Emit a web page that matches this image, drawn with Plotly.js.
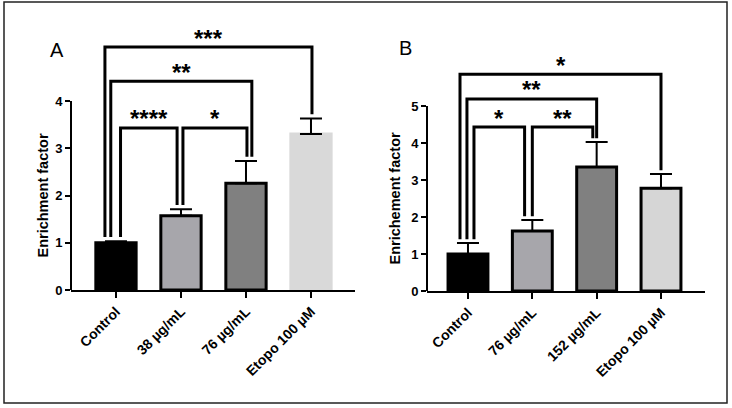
<!DOCTYPE html>
<html>
<head>
<meta charset="utf-8">
<script src="https://cdn.plot.ly/plotly-3.0.1.min.js"></script>
<style>html,body{margin:0;padding:0;background:#fff;}#chart{width:732px;height:408px;}</style>
</head>
<body>
<div id="chart"></div>
<script>
// ---- Data ----
const catsA = ['Control', '38 µg/mL', '76 µg/mL', 'Etopo 100 µM'];
const meanA = [1.00, 1.57, 2.26, 3.30];
const errA  = [0.03, 0.14, 0.47, 0.33];

const catsB = ['Control', '76 µg/mL', '152 µg/mL', 'Etopo 100 µM'];
const meanB = [1.00, 1.62, 3.35, 2.78];
const errB  = [0.30, 0.30, 0.68, 0.38];

// significance comparisons (pairs of category indices), bracket heights, labels
const pairsA   = [[0, 1], [1, 2], [0, 2], [0, 3]];
const heightsA = [3.43, 3.43, 4.42, 5.14];
const starsA   = ['****', '*', '**', '***'];

const pairsB   = [[0, 1], [1, 2], [0, 2], [0, 3]];
const heightsB = [4.43, 4.43, 5.19, 5.86];
const starsB   = ['*', '**', '**', '*'];

const yTicksA = [0, 1, 2, 3, 4];
const yTicksB = [0, 1, 2, 3, 4, 5];
const titleA = 'Enrichment factor';
const titleB = 'Enrichement factor';

// ---- Styling ----
const FONT = 'Liberation Sans, Arial, Helvetica, sans-serif';
const colorsA = ['#000000', '#a7a6ab', '#808080', '#d9d9d9'];
const lineColA = ['#000000', '#000000', '#000000', '#d9d9d9'];
const colorsB = ['#000000', '#a7a6ab', '#808080', '#d6d6d6'];
const lineColB = ['#000000', '#000000', '#000000', '#000000'];
// horizontal offsets of bracket legs from bar centres (left leg, right leg)
const legOffA = [[0.07, -0.06], [0.03, 0.015], [-0.08, 0.09], [-0.17, 0.015]];
const legOffB = [[0.093, -0.12], [0.0, -0.06], [-0.016, 0.0], [-0.124, 0.0]];

const W = 732, H = 408;

function barTrace(cats, mean, err, colors, lineCols, xa, ya) {
  return {
    type: 'bar', x: cats, y: mean, xaxis: xa, yaxis: ya, width: 0.62,
    marker: { color: colors, line: { color: lineCols, width: 3 } },
    error_y: { type: 'data', symmetric: false, array: err, arrayminus: err.map(() => 0),
               color: '#000', thickness: 2, width: 11 },
    hoverinfo: 'skip'
  };
}

function brackets(pairs, heights, stars, legOff, mean, err, gap, xa, ya) {
  const shapes = [], anns = [];
  pairs.forEach((p, k) => {
    const xl = p[0] + legOff[k][0], xr = p[1] + legOff[k][1];
    const h = heights[k];
    const bl = mean[p[0]] + err[p[0]] + gap, br = mean[p[1]] + err[p[1]] + gap;
    shapes.push({
      type: 'path', xref: xa, yref: ya,
      path: `M${xl},${bl} L${xl},${h} L${xr},${h} L${xr},${br}`,
      line: { color: '#000', width: 3 }, layer: 'above'
    });
    anns.push({
      xref: xa, yref: ya, x: (xl + xr) / 2, y: h, text: stars[k], showarrow: false,
      xanchor: 'center', yanchor: 'middle', yshift: 9,
      font: { family: FONT, size: 24, color: '#000', weight: 'bold' }
    });
  });
  return { shapes, anns };
}

const bA = brackets(pairsA, heightsA, starsA, legOffA, meanA, errA, 0.09, 'x', 'y');
const bB = brackets(pairsB, heightsB, starsB, legOffB, meanB, errB, 0.10, 'x2', 'y2');

const tickFontX = { family: FONT, size: 14, color: '#000', weight: 'bold' };
const tickFontY = { family: FONT, size: 13, color: '#000', weight: 'bold' };
const titleFont = { family: FONT, size: 14.5, color: '#000', weight: 'bold' };

function xAxis(domain, range, anchor) {
  return { domain, range, anchor, type: 'category', showline: true, linewidth: 2, linecolor: '#000',
           ticks: 'outside', ticklen: 6, tickwidth: 2, tickcolor: '#000', tickangle: -45,
           tickfont: tickFontX, showgrid: false, zeroline: false, fixedrange: true };
}
function yAxis(domain, range, anchor, tickvals) {
  return { domain, range, anchor, tickvals, ticks: 'outside', ticklen: 5, tickwidth: 2, tickcolor: '#000',
           showline: false, showgrid: false, zeroline: false, tickfont: tickFontY, fixedrange: true };
}

// y-axis title centred on the drawn axis line (0 .. last tick)
function yTitle(text, xpx, xa, ya, ticks) {
  return { xref: 'paper', yref: ya, x: xpx / W, y: (ticks[0] + ticks[ticks.length - 1]) / 2,
           text, showarrow: false, textangle: -90, xanchor: 'center', yanchor: 'middle', font: titleFont };
}

const layout = {
  width: W, height: H, margin: { l: 0, r: 0, t: 0, b: 0 },
  paper_bgcolor: '#fff', plot_bgcolor: 'rgba(0,0,0,0)', showlegend: false,
  xaxis:  xAxis([71 / W, 355 / W], [-0.692, 3.677], 'y'),
  yaxis:  yAxis([1 - 290 / H, 1 - 20 / H], [0, 5.714], 'x', yTicksA),
  xaxis2: xAxis([427 / W, 705 / W], [-0.637, 3.684], 'y2'),
  yaxis2: yAxis([1 - 291 / H, 1 - 20 / H], [0, 7.324], 'x2', yTicksB),
  shapes: [
    { type: 'rect', xref: 'paper', yref: 'paper', x0: 4 / W, x1: 727 / W, y0: 1 - 403 / H, y1: 1 - 2 / H,
      line: { color: '#222222', width: 1.5 } },
    { type: 'line', xref: 'x domain', yref: 'y', x0: 0, x1: 0, y0: yTicksA[0], y1: yTicksA[yTicksA.length - 1],
      line: { color: '#000', width: 2 } },
    { type: 'line', xref: 'x2 domain', yref: 'y2', x0: 0, x1: 0, y0: yTicksB[0], y1: yTicksB[yTicksB.length - 1],
      line: { color: '#000', width: 2 } }
  ].concat(bA.shapes, bB.shapes),
  annotations: [
    { xref: 'paper', yref: 'paper', x: 57 / W, y: 1 - 50 / H, text: 'A', showarrow: false,
      xanchor: 'center', yanchor: 'middle', font: { family: FONT, size: 20, color: '#000' } },
    { xref: 'paper', yref: 'paper', x: 406 / W, y: 1 - 48 / H, text: 'B', showarrow: false,
      xanchor: 'center', yanchor: 'middle', font: { family: FONT, size: 20, color: '#000' } },
    yTitle(titleA, 42, 'x', 'y', yTicksA),
    yTitle(titleB, 394, 'x2', 'y2', yTicksB)
  ].concat(bA.anns, bB.anns)
};

const data = [
  barTrace(catsA, meanA, errA, colorsA, lineColA, 'x', 'y'),
  barTrace(catsB, meanB, errB, colorsB, lineColB, 'x2', 'y2')
];

Plotly.newPlot('chart', data, layout, { staticPlot: true, displayModeBar: false });
</script>
</body>
</html>
